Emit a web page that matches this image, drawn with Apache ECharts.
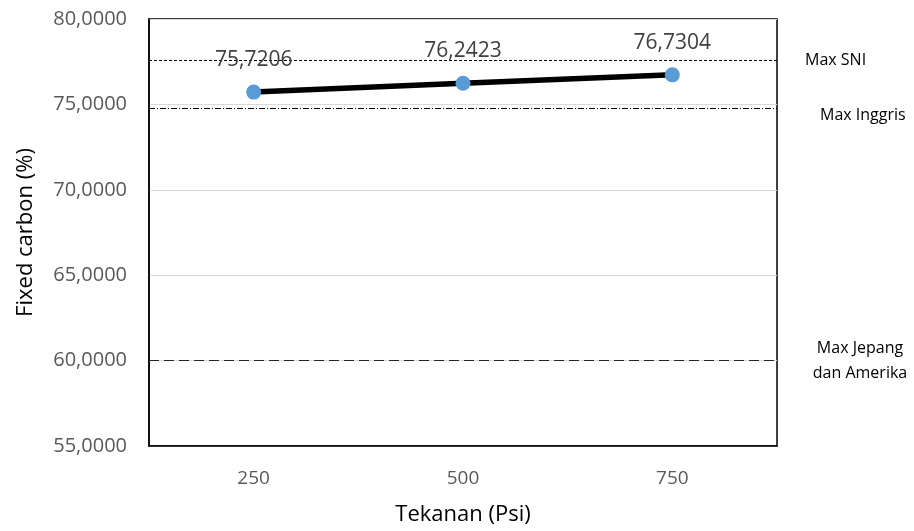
<!DOCTYPE html>
<html>
<head>
<meta charset="utf-8">
<script src="https://cdn.jsdelivr.net/npm/echarts@6/dist/echarts.min.js"></script>
<style>html,body{margin:0;padding:0;background:#fff}#c{width:914px;height:531px}</style>
</head>
<body>
<div id="c"></div>
<script>
const categories = ['250', '500', '750'];
const fixedCarbon = [75.7206, 76.2423, 76.7304];
const refNames = ['Max SNI', 'Max Inggris', 'Max Jepang\ndan Amerika'];
const refValues = [77.6, 74.8, 60];
const yTicks = [55, 60, 65, 70, 75, 80];

const fmt = v => v.toFixed(4).replace('.', ',');
const FONT = '"Open Sans", "Noto Sans", sans-serif';

const chart = echarts.init(document.getElementById('c'));
chart.setOption({
  animation: false,
  backgroundColor: '#fff',
  textStyle: { fontFamily: FONT },
  grid: { left: 149, right: 137, top: 19, bottom: 85, show: true, borderColor: '#000', borderWidth: 1.5, backgroundColor: 'transparent' },
  xAxis: {
    type: 'category',
    data: categories,
    boundaryGap: true,
    name: 'Tekanan (Psi)',
    nameLocation: 'middle',
    nameGap: 58,
    nameTextStyle: { fontSize: 22, color: '#000', fontFamily: FONT },
    axisLine: { lineStyle: { color: '#000', width: 1.5 } },
    axisTick: { show: false },
    axisLabel: { fontSize: 19, color: '#595959', margin: 23, fontFamily: FONT },
    splitLine: { show: false }
  },
  yAxis: {
    type: 'value',
    min: yTicks[0],
    max: yTicks[yTicks.length - 1],
    interval: 5,
    name: 'Fixed carbon (%)',
    nameLocation: 'middle',
    nameGap: 112,
    nameTextStyle: { fontSize: 22, color: '#000', fontFamily: FONT },
    axisLine: { show: true, lineStyle: { color: '#000', width: 1.5 } },
    axisTick: { show: false },
    axisLabel: { fontSize: 20, color: '#595959', margin: 22, formatter: v => fmt(v), fontFamily: FONT },
    splitLine: { show: true, lineStyle: { color: '#d9d9d9', width: 1 } }
  },
  series: [{
    type: 'line',
    data: fixedCarbon,
    symbol: 'circle',
    symbolSize: 15,
    lineStyle: { color: '#000', width: 5.5 },
    itemStyle: { color: '#5B9BD5' },
    label: { show: true, position: 'top', distance: 14, fontSize: 21, color: '#404040', formatter: p => fmt(p.value), fontFamily: FONT },
    z: 5,
    markLine: {
      silent: true,
      symbol: ['none', 'none'],
      animation: false,
      data: [
        { yAxis: refValues[0], name: refNames[0],
          lineStyle: { type: [3, 2], color: '#000', width: 1 },
          label: { position: 'end', formatter: refNames[0], distance: 28, fontSize: 16, color: '#000', fontFamily: FONT } },
        { yAxis: refValues[1], name: refNames[1],
          lineStyle: { type: [6, 2, 1, 2], color: '#000', width: 1 },
          label: { position: 'end', formatter: refNames[1], distance: 43, verticalAlign: 'top', fontSize: 16, color: '#000', fontFamily: FONT } },
        { yAxis: refValues[2], name: refNames[2],
          lineStyle: { type: [10, 5], color: '#262626', width: 1.2 },
          label: { position: 'end', formatter: refNames[2], distance: 83, align: 'center', fontSize: 16, lineHeight: 25, color: '#000', fontFamily: FONT } }
      ]
    }
  }]
});
</script>
</body>
</html>
